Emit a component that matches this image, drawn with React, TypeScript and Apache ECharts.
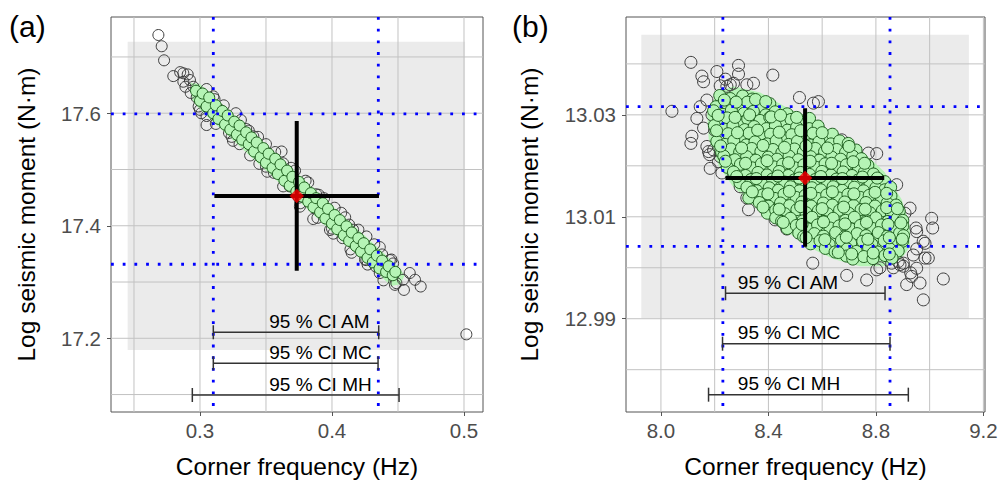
import React, { useEffect, useRef } from "react";
import * as echarts from "echarts";

const FONT = "'Liberation Sans', Arial, Helvetica, sans-serif";

// ---------------- Panel (a) ----------------
const xRangeA = [0.2326, 0.5144];
const yRangeA = [17.069, 17.771];
const xTicksA = [0.3, 0.4, 0.5];
const yTicksA = [17.2, 17.4, 17.6];
const xMinorA = [0.25, 0.35, 0.45];
const yMinorA = [17.1, 17.3, 17.5, 17.7];
const shadeA = [0.2452, 17.179, 0.5008, 17.727];
const refXA = [0.3101, 0.4351];
const refYA = [17.599, 17.3316];
const bestA = [0.3733, 17.453];
const errXA = [0.3109, 0.4356];
const errYA = [17.32, 17.586];
const ciA = [
  [0.3101, 0.4354, 17.2107],
  [0.3101, 0.4349, 17.1556],
  [0.2942, 0.4508, 17.0992],
];
const ciLabelXA = 0.3525;
const hullA = [
  [0.293, 17.654], [0.300, 17.652], [0.350, 17.545], [0.400, 17.436], [0.450, 17.328], [0.455, 17.312],
  [0.452, 17.296], [0.445, 17.293], [0.400, 17.389], [0.350, 17.498], [0.300, 17.606], [0.294, 17.624],
];
const allA = [
  [0.2685, 17.739], [0.2710, 17.719], [0.2728, 17.694], [0.2798, 17.666], [0.2850, 17.673], [0.2874, 17.671],
  [0.2907, 17.669], [0.2874, 17.656], [0.2890, 17.647], [0.2924, 17.659], [0.2950, 17.647], [0.2930, 17.636],
  [0.2975, 17.628], [0.2990, 17.612], [0.3010, 17.600], [0.3050, 17.595], [0.3050, 17.579], [0.3101, 17.630],
  [0.3151, 17.606], [0.3272, 17.600], [0.3180, 17.585], [0.3220, 17.565], [0.3300, 17.545], [0.3350, 17.572],
  [0.3404, 17.559], [0.3450, 17.510], [0.3500, 17.545], [0.3560, 17.494], [0.3618, 17.532], [0.3631, 17.493],
  [0.3680, 17.470], [0.3720, 17.498], [0.3757, 17.434], [0.3800, 17.480], [0.3858, 17.412], [0.3900, 17.455],
  [0.3985, 17.3925], [0.4020, 17.432], [0.4080, 17.378], [0.4100, 17.415], [0.4149, 17.352], [0.4160, 17.393],
  [0.4261, 17.381], [0.4250, 17.340], [0.4330, 17.328], [0.4362, 17.362], [0.4362, 17.316], [0.4438, 17.339],
  [0.4463, 17.333], [0.4477, 17.295], [0.4488, 17.298], [0.4545, 17.286], [0.4538, 17.304], [0.4589, 17.316],
  [0.4629, 17.304], [0.4672, 17.292], [0.5018, 17.207],
  [0.305, 17.643], [0.318, 17.614], [0.331, 17.588], [0.344, 17.558], [0.357, 17.531], [0.369, 17.503],
  [0.382, 17.477], [0.394, 17.449], [0.407, 17.423], [0.420, 17.393], [0.432, 17.367], [0.445, 17.340],
  [0.300, 17.606], [0.312, 17.581], [0.325, 17.551], [0.338, 17.525], [0.351, 17.496], [0.363, 17.470],
  [0.376, 17.440], [0.389, 17.414], [0.401, 17.386], [0.414, 17.358], [0.427, 17.331], [0.439, 17.303],
  [0.311, 17.625], [0.337, 17.569], [0.363, 17.511], [0.388, 17.456], [0.413, 17.402], [0.438, 17.349],
  [0.324, 17.558], [0.350, 17.505], [0.375, 17.450], [0.400, 17.395], [0.426, 17.339],
];
const keptA = [
  [0.297, 17.640], [0.300, 17.622], [0.302, 17.635], [0.305, 17.612], [0.307, 17.628], [0.310, 17.600],
  [0.312, 17.614], [0.314, 17.590], [0.317, 17.604], [0.319, 17.580], [0.321, 17.596], [0.323, 17.571],
  [0.326, 17.585], [0.328, 17.562], [0.330, 17.578], [0.332, 17.553], [0.335, 17.566], [0.337, 17.545],
  [0.339, 17.557], [0.341, 17.532], [0.343, 17.548], [0.346, 17.522], [0.348, 17.538], [0.350, 17.512],
  [0.352, 17.528], [0.355, 17.503], [0.357, 17.519], [0.359, 17.492], [0.361, 17.509], [0.364, 17.480],
  [0.366, 17.498], [0.368, 17.471], [0.370, 17.487], [0.373, 17.461], [0.375, 17.478], [0.377, 17.452],
  [0.379, 17.468], [0.382, 17.443], [0.384, 17.458], [0.386, 17.433], [0.388, 17.449], [0.391, 17.424],
  [0.393, 17.440], [0.395, 17.413], [0.397, 17.430], [0.400, 17.404], [0.402, 17.419], [0.404, 17.394],
  [0.406, 17.410], [0.409, 17.383], [0.411, 17.399], [0.413, 17.373], [0.415, 17.388], [0.418, 17.364],
  [0.420, 17.378], [0.422, 17.354], [0.424, 17.369], [0.427, 17.343], [0.429, 17.358], [0.431, 17.335],
  [0.434, 17.347], [0.436, 17.324], [0.438, 17.338], [0.441, 17.318], [0.443, 17.328], [0.446, 17.312],
  [0.448, 17.318],
];

// ---------------- Panel (b) ----------------
const xRangeB = [7.87, 9.206];
const yRangeB = [12.9717, 13.0492];
const xTicksB = [8.0, 8.4, 8.8, 9.2];
const yTicksB = [12.99, 13.01, 13.03];
const xMinorB = [8.2, 8.6, 9.0];
const yMinorB = [12.98, 13.0, 13.02, 13.04];
const shadeB = [7.927, 12.9901, 9.146, 13.0457];
const refXB = [8.2305, 8.8525];
const refYB = [13.0316, 13.0042];
const bestB = [8.5365, 13.0176];
const errXB = [8.24, 8.831];
const errYB = [13.0041, 13.0313];
const ciB = [
  [8.2404, 8.834, 12.995],
  [8.2292, 8.8525, 12.9851],
  [8.1772, 8.9207, 12.9751],
];
const ciLabelXB = 8.2862;
const hullB = [
  [8.208, 13.0344], [8.270, 13.0356], [8.369, 13.0344], [8.456, 13.0318], [8.555, 13.0292], [8.642, 13.0266],
  [8.741, 13.0233], [8.832, 13.0188], [8.896, 13.0134], [8.927, 13.0081], [8.926, 13.0040], [8.892, 13.0016],
  [8.828, 13.0003], [8.741, 13.0003], [8.642, 13.0017], [8.565, 13.0037], [8.490, 13.0063], [8.416, 13.0091],
  [8.342, 13.0123], [8.266, 13.0161], [8.216, 13.0199], [8.178, 13.0251], [8.172, 13.0300],
];
const allB = [
  [8.1115, 13.0403], [8.0409, 13.0307], [8.1524, 13.0376], [8.1586, 13.0365], [8.2082, 13.0385], [8.2206, 13.0357],
  [8.2887, 13.0397], [8.2887, 13.0380], [8.3197, 13.0359], [8.3445, 13.0362], [8.4164, 13.0378], [8.1338, 13.0293],
  [8.1586, 13.0274], [8.1152, 13.0258], [8.1115, 13.0244], [8.1809, 13.0222], [8.1834, 13.0195], [8.2268, 13.0186],
  [8.2206, 13.0218], [8.5155, 13.0334], [8.5675, 13.0323], [8.5861, 13.0326], [8.2949, 13.0159], [8.3197, 13.0137],
  [8.3259, 13.0114], [8.4250, 13.0094], [8.4684, 13.0076], [8.5650, 13.0009], [8.6914, 12.9985], [8.7658, 12.9976],
  [8.7720, 13.0225], [8.8030, 13.0224], [8.6729, 13.0251], [8.8773, 13.0163], [8.9269, 13.0117], [8.9083, 13.0107],
  [9.0074, 13.0097], [9.0112, 13.0078], [8.9492, 13.0078], [8.9517, 13.0071], [8.9827, 13.0048], [8.9393, 13.0025],
  [8.9827, 13.0019], [8.9950, 13.0019], [8.9517, 12.9999], [8.9021, 13.0003], [8.9294, 12.9990], [8.9145, 12.9967],
  [8.9641, 12.9970], [8.9765, 12.9937], [9.0508, 12.9978], [8.8587, 13.0009], [8.8897, 13.0006], [8.1462, 13.0316],
  [8.1710, 13.0329], [8.2454, 13.0356], [8.2701, 13.0362], [8.1710, 13.0238], [8.1772, 13.0228], [8.196, 13.0231],
  [8.214, 13.0208], [8.200, 13.0270], [8.190, 13.0300], [8.258, 13.0359], [8.240, 13.0370], [8.976, 13.0052],
  [8.952, 13.0037], [8.902, 13.0009], [8.933, 12.9983], [8.865, 13.0000], [8.883, 13.0012], [8.815, 13.0000],
  [8.803, 12.9996],
];
const keptB = [
  [8.219, 13.0338], [8.258, 13.0332], [8.304, 13.0337], [8.340, 13.0331],
  [8.205, 13.0316], [8.243, 13.0323], [8.289, 13.0318], [8.322, 13.0325], [8.371, 13.0317], [8.405, 13.0322],
  [8.196, 13.0308], [8.231, 13.0301], [8.262, 13.0309], [8.309, 13.0303], [8.344, 13.0307], [8.390, 13.0300], [8.425, 13.0306], [8.470, 13.0302],
  [8.214, 13.0287], [8.246, 13.0294], [8.291, 13.0286], [8.323, 13.0292], [8.369, 13.0289], [8.405, 13.0295], [8.451, 13.0286], [8.484, 13.0291], [8.530, 13.0288], [8.553, 13.0293],
  [8.199, 13.0279], [8.235, 13.0272], [8.268, 13.0278], [8.312, 13.0271], [8.347, 13.0277], [8.393, 13.0273], [8.426, 13.0279], [8.471, 13.0270], [8.505, 13.0276], [8.552, 13.0273], [8.585, 13.0278],
  [8.218, 13.0256], [8.250, 13.0263], [8.296, 13.0258], [8.328, 13.0264], [8.374, 13.0257], [8.408, 13.0262], [8.453, 13.0256], [8.487, 13.0261], [8.533, 13.0257], [8.566, 13.0264], [8.611, 13.0258], [8.638, 13.0262],
  [8.208, 13.0248], [8.239, 13.0242], [8.271, 13.0249], [8.317, 13.0241], [8.350, 13.0247], [8.395, 13.0243], [8.429, 13.0249], [8.475, 13.0242], [8.508, 13.0248], [8.554, 13.0241], [8.588, 13.0247], [8.633, 13.0243], [8.665, 13.0249], [8.697, 13.0244],
  [8.226, 13.0226], [8.261, 13.0233], [8.293, 13.0227], [8.338, 13.0234], [8.372, 13.0228], [8.417, 13.0232], [8.450, 13.0226], [8.497, 13.0233], [8.530, 13.0227], [8.575, 13.0234], [8.609, 13.0228], [8.654, 13.0232], [8.687, 13.0226], [8.726, 13.0231],
  [8.234, 13.0219], [8.275, 13.0212], [8.319, 13.0218], [8.353, 13.0211], [8.399, 13.0217], [8.432, 13.0213], [8.477, 13.0219], [8.511, 13.0212], [8.557, 13.0218], [8.590, 13.0211], [8.636, 13.0217], [8.669, 13.0213], [8.714, 13.0219], [8.746, 13.0214],
  [8.247, 13.0197], [8.296, 13.0203], [8.340, 13.0196], [8.374, 13.0204], [8.420, 13.0198], [8.453, 13.0203], [8.499, 13.0196], [8.532, 13.0202], [8.578, 13.0197], [8.611, 13.0204], [8.657, 13.0198], [8.690, 13.0202], [8.735, 13.0196], [8.770, 13.0201],
  [8.270, 13.0188], [8.315, 13.0181], [8.361, 13.0187], [8.395, 13.0182], [8.440, 13.0189], [8.474, 13.0181], [8.520, 13.0187], [8.553, 13.0183], [8.599, 13.0189], [8.633, 13.0182], [8.678, 13.0188], [8.711, 13.0181], [8.757, 13.0187], [8.791, 13.0184],
  [8.294, 13.0167], [8.335, 13.0173], [8.381, 13.0166], [8.415, 13.0174], [8.461, 13.0168], [8.495, 13.0172], [8.540, 13.0166], [8.574, 13.0173], [8.620, 13.0167], [8.653, 13.0174], [8.699, 13.0168], [8.733, 13.0172], [8.778, 13.0166], [8.812, 13.0173], [8.833, 13.0169],
  [8.320, 13.0158], [8.357, 13.0151], [8.403, 13.0157], [8.437, 13.0152], [8.482, 13.0159], [8.516, 13.0151], [8.562, 13.0157], [8.595, 13.0153], [8.641, 13.0159], [8.675, 13.0152], [8.720, 13.0158], [8.754, 13.0151], [8.800, 13.0157], [8.833, 13.0153], [8.855, 13.0158],
  [8.327, 13.0137], [8.379, 13.0143], [8.424, 13.0136], [8.458, 13.0144], [8.503, 13.0138], [8.537, 13.0142], [8.583, 13.0136], [8.617, 13.0143], [8.662, 13.0137], [8.696, 13.0144], [8.742, 13.0138], [8.775, 13.0142], [8.821, 13.0136], [8.856, 13.0141],
  [8.366, 13.0128], [8.400, 13.0121], [8.445, 13.0127], [8.479, 13.0122], [8.525, 13.0129], [8.559, 13.0121], [8.604, 13.0127], [8.638, 13.0123], [8.684, 13.0129], [8.717, 13.0122], [8.763, 13.0128], [8.797, 13.0121], [8.842, 13.0127], [8.875, 13.0123],
  [8.396, 13.0107], [8.427, 13.0113], [8.461, 13.0106], [8.506, 13.0114], [8.540, 13.0108], [8.586, 13.0112], [8.620, 13.0106], [8.665, 13.0113], [8.699, 13.0107], [8.745, 13.0114], [8.778, 13.0108], [8.824, 13.0112], [8.858, 13.0106], [8.887, 13.0111],
  [8.427, 13.0098], [8.449, 13.0091], [8.482, 13.0097], [8.528, 13.0092], [8.562, 13.0099], [8.607, 13.0091], [8.641, 13.0097], [8.687, 13.0093], [8.720, 13.0099], [8.766, 13.0092], [8.800, 13.0098], [8.845, 13.0091], [8.879, 13.0097], [8.900, 13.0093],
  [8.470, 13.0077], [8.504, 13.0083], [8.549, 13.0076], [8.583, 13.0084], [8.629, 13.0078], [8.663, 13.0082], [8.708, 13.0076], [8.742, 13.0083], [8.788, 13.0077], [8.821, 13.0084], [8.867, 13.0078], [8.900, 13.0082],
  [8.513, 13.0068], [8.531, 13.0061], [8.571, 13.0067], [8.605, 13.0062], [8.650, 13.0069], [8.684, 13.0061], [8.730, 13.0067], [8.763, 13.0063], [8.809, 13.0069], [8.843, 13.0062], [8.888, 13.0068], [8.903, 13.0063],
  [8.557, 13.0047], [8.592, 13.0053], [8.626, 13.0046], [8.672, 13.0054], [8.706, 13.0048], [8.751, 13.0052], [8.785, 13.0046], [8.831, 13.0053], [8.864, 13.0047], [8.899, 13.0052],
  [8.612, 13.0038], [8.648, 13.0031], [8.693, 13.0037], [8.727, 13.0032], [8.773, 13.0039], [8.806, 13.0031], [8.852, 13.0037], [8.883, 13.0033],
  [8.690, 13.0023], [8.714, 13.0017], [8.755, 13.0022], [8.789, 13.0018], [8.834, 13.0024], [8.860, 13.0019],
];
// extra samples lying between the rows above
const keptB2 = [
  [8.236, 13.0329], [8.280, 13.0325], [8.352, 13.0330], [8.390, 13.0326],
  [8.213, 13.0299], [8.276, 13.0295], [8.330, 13.0300], [8.410, 13.0296], [8.445, 13.0299], [8.505, 13.0295],
  [8.207, 13.0269], [8.285, 13.0265], [8.360, 13.0270], [8.440, 13.0266], [8.520, 13.0269], [8.600, 13.0265],
  [8.222, 13.0239], [8.300, 13.0235], [8.380, 13.0240], [8.460, 13.0236], [8.540, 13.0239], [8.620, 13.0235], [8.700, 13.0238],
  [8.240, 13.0209], [8.315, 13.0205], [8.395, 13.0210], [8.475, 13.0206], [8.555, 13.0209], [8.635, 13.0205], [8.715, 13.0208], [8.758, 13.0205],
  [8.282, 13.0179], [8.355, 13.0175], [8.435, 13.0180], [8.515, 13.0176], [8.595, 13.0179], [8.675, 13.0175], [8.750, 13.0178], [8.805, 13.0176],
  [8.340, 13.0149], [8.398, 13.0145], [8.478, 13.0150], [8.558, 13.0146], [8.638, 13.0149], [8.718, 13.0145], [8.797, 13.0148], [8.840, 13.0146],
  [8.380, 13.0119], [8.440, 13.0115], [8.520, 13.0120], [8.600, 13.0116], [8.680, 13.0119], [8.760, 13.0115], [8.840, 13.0118], [8.880, 13.0116],
  [8.455, 13.0089], [8.525, 13.0085], [8.605, 13.0090], [8.685, 13.0086], [8.765, 13.0089], [8.845, 13.0085], [8.893, 13.0088],
  [8.540, 13.0059], [8.610, 13.0055], [8.690, 13.0060], [8.770, 13.0056], [8.850, 13.0059], [8.898, 13.0056],
  [8.660, 13.0030], [8.710, 13.0027], [8.790, 13.0029], [8.850, 13.0027],
];

const ciNames = ["95 % CI AM", "95 % CI MC", "95 % CI MH"];
const panelTags = ["(a)", "(b)"];
const xTitle = "Corner frequency (Hz)";
const yTitle = "Log seismic moment (N·m)";

type Panel = {
  xRange: number[]; yRange: number[]; xTicks: number[]; yTicks: number[]; xMinor: number[]; yMinor: number[];
  shade: number[]; refX: number[]; refY: number[]; best: number[]; errX: number[]; errY: number[];
  ci: number[][]; ciLabelX: number; hull: number[][]; all: number[][]; kept: number[][];
  xDec: number; yDec: number; size: number;
};

const panels: Panel[] = [
  { xRange: xRangeA, yRange: yRangeA, xTicks: xTicksA, yTicks: yTicksA, xMinor: xMinorA, yMinor: yMinorA,
    shade: shadeA, refX: refXA, refY: refYA, best: bestA, errX: errXA, errY: errYA, ci: ciA, ciLabelX: ciLabelXA,
    hull: hullA, all: allA, kept: keptA, xDec: 1, yDec: 1, size: 11 },
  { xRange: xRangeB, yRange: yRangeB, xTicks: xTicksB, yTicks: yTicksB, xMinor: xMinorB, yMinor: yMinorB,
    shade: shadeB, refX: refXB, refY: refYB, best: bestB, errX: errXB, errY: errYB, ci: ciB, ciLabelX: ciLabelXB,
    hull: hullB, all: allB, kept: [...keptB, ...keptB2], xDec: 1, yDec: 2, size: 12 },
];

function panelSeries(i: number, P: Panel): any[] {
  const base = { xAxisIndex: i, yAxisIndex: i, silent: true };
  return [
    {
      ...base, type: "custom", z: 1, clip: false, data: [P.shade], encode: { x: [0, 2], y: [1, 3] },
      renderItem: (params: any, api: any) => {
        const cs = params.coordSys;
        const a = api.coord([P.shade[0], P.shade[3]]);
        const b = api.coord([P.shade[2], P.shade[1]]);
        const children: any[] = [
          { type: "rect", shape: { x: a[0], y: a[1], width: b[0] - a[0], height: b[1] - a[1] }, style: { fill: "#ebebeb" } },
        ];
        [...P.xTicks, ...P.xMinor].forEach((v) => {
          const px = api.coord([v, P.yRange[0]])[0];
          children.push({ type: "line", shape: { x1: px, y1: cs.y, x2: px, y2: cs.y + cs.height }, style: { stroke: "#c2c2c2", lineWidth: 1 } });
        });
        [...P.yTicks, ...P.yMinor].forEach((v) => {
          const py = api.coord([P.xRange[0], v])[1];
          children.push({ type: "line", shape: { x1: cs.x, y1: py, x2: cs.x + cs.width, y2: py }, style: { stroke: "#c2c2c2", lineWidth: 1 } });
        });
        return { type: "group", children };
      },
    },
    {
      ...base, type: "custom", z: 2, data: P.hull,
      renderItem: (params: any, api: any) => {
        if (params.dataIndex !== 0) return null;
        return { type: "polygon", shape: { points: P.hull.map((p) => api.coord(p)) }, style: { fill: "#b5f4b5" } };
      },
    },
    {
      ...base, type: "scatter", z: 3, data: P.all, symbol: "circle", symbolSize: P.size,
      itemStyle: { color: "rgba(0,0,0,0)", borderColor: "#3c3c3c", borderWidth: 1, opacity: 1 },
    },
    {
      ...base, type: "scatter", z: 4, data: P.kept, symbol: "circle", symbolSize: P.size,
      itemStyle: { color: "#b5f4b5", borderColor: "#1f5f1f", borderWidth: 1, opacity: 1 },
    },
    {
      ...base, type: "custom", z: 5, clip: false, data: [[P.refX[0], P.refY[0]]],
      renderItem: (params: any, api: any) => {
        const cs = params.coordSys;
        const st = { stroke: "#0000ff", lineWidth: 2.8, lineDash: [2.8, 8.9] };
        const children: any[] = [];
        P.refX.forEach((v) => {
          const px = api.coord([v, P.yRange[0]])[0];
          children.push({ type: "line", shape: { x1: px, y1: cs.y, x2: px, y2: cs.y + cs.height }, style: st });
        });
        P.refY.forEach((v) => {
          const py = api.coord([P.xRange[0], v])[1];
          children.push({ type: "line", shape: { x1: cs.x, y1: py, x2: cs.x + cs.width, y2: py }, style: st });
        });
        return { type: "group", children };
      },
    },
    {
      ...base, type: "custom", z: 6, data: [P.best],
      renderItem: (params: any, api: any) => {
        const l = api.coord([P.errX[0], P.best[1]]);
        const r = api.coord([P.errX[1], P.best[1]]);
        const t = api.coord([P.best[0], P.errY[1]]);
        const b = api.coord([P.best[0], P.errY[0]]);
        const st = { stroke: "#000", lineWidth: 4 };
        return {
          type: "group",
          children: [
            { type: "line", shape: { x1: l[0], y1: l[1], x2: r[0], y2: r[1] }, style: st },
            { type: "line", shape: { x1: t[0], y1: t[1], x2: b[0], y2: b[1] }, style: st },
          ],
        };
      },
    },
    {
      ...base, type: "scatter", z: 7, data: [P.best], symbol: "diamond", symbolSize: [14, 14],
      itemStyle: { color: "#ff0000", borderColor: "#cc0000", borderWidth: 0.5 },
    },
    {
      ...base, type: "custom", z: 8, clip: false, data: P.ci,
      renderItem: (params: any, api: any) => {
        const row = P.ci[params.dataIndex];
        const a = api.coord([row[0], row[2]]);
        const b = api.coord([row[1], row[2]]);
        const lx = api.coord([P.ciLabelX, row[2]])[0];
        const st = { stroke: "#333", lineWidth: 1.5 };
        return {
          type: "group",
          children: [
            { type: "line", shape: { x1: a[0], y1: a[1], x2: b[0], y2: b[1] }, style: st },
            { type: "line", shape: { x1: a[0], y1: a[1] - 7, x2: a[0], y2: a[1] + 7 }, style: st },
            { type: "line", shape: { x1: b[0], y1: b[1] - 7, x2: b[0], y2: b[1] + 7 }, style: st },
            {
              type: "text",
              style: { text: ciNames[params.dataIndex], x: lx, y: a[1] - 11, fill: "#000", fontSize: 19, fontFamily: FONT, align: "left", verticalAlign: "middle" },
            },
          ],
        };
      },
    },
  ];
}

export default function App() {
  const ref = useRef<HTMLDivElement>(null);
  useEffect(() => {
    if (!ref.current) return;
    const chart = echarts.init(ref.current, undefined, { renderer: "svg" });
    const grids = [
      { left: 111, top: 17, width: 372, height: 395 },
      { left: 626, top: 17, width: 359, height: 395 },
    ];
    const yGaps = [72, 84];
    chart.setOption({
      animation: false,
      textStyle: { fontFamily: FONT },
      grid: grids.map((g) => ({ ...g, show: true, borderColor: "#555", borderWidth: 1, backgroundColor: "transparent", containLabel: false, outerBoundsMode: "none" })),
      xAxis: panels.map((P, i) => ({
        type: "value", gridIndex: i, min: P.xRange[0], max: P.xRange[1],
        axisLine: { show: false }, splitLine: { show: false },
        axisTick: { show: true, length: 4, lineStyle: { color: "#555" }, customValues: P.xTicks },
        axisLabel: { customValues: P.xTicks, formatter: (v: number) => v.toFixed(P.xDec), fontSize: 20.5, color: "#4d4d4d", margin: 8, fontFamily: FONT },
        name: xTitle, nameLocation: "middle", nameGap: 42,
        nameTextStyle: { fontSize: 24.5, color: "#000", fontFamily: FONT },
      })),
      yAxis: panels.map((P, i) => ({
        type: "value", gridIndex: i, min: P.yRange[0], max: P.yRange[1],
        axisLine: { show: false }, splitLine: { show: false },
        axisTick: { show: true, length: 4, lineStyle: { color: "#555" }, customValues: P.yTicks },
        axisLabel: { customValues: P.yTicks, formatter: (v: number) => v.toFixed(P.yDec), fontSize: 20.5, color: "#4d4d4d", margin: 10, fontFamily: FONT },
        name: yTitle, nameLocation: "middle", nameGap: yGaps[i], nameRotate: 90,
        nameTextStyle: { fontSize: 24.5, color: "#000", fontFamily: FONT },
      })),
      graphic: panelTags.map((t, i) => ({
        type: "text", left: i === 0 ? 9 : 512, top: 11,
        style: { text: t, fontSize: 30, fill: "#000", fontFamily: FONT },
      })),
      series: panels.flatMap((P, i) => panelSeries(i, P)),
    });
    return () => chart.dispose();
  }, []);
  return <div ref={ref} style={{ position: "absolute", left: 0, top: 0, width: 1000, height: 480 }} />;
}
